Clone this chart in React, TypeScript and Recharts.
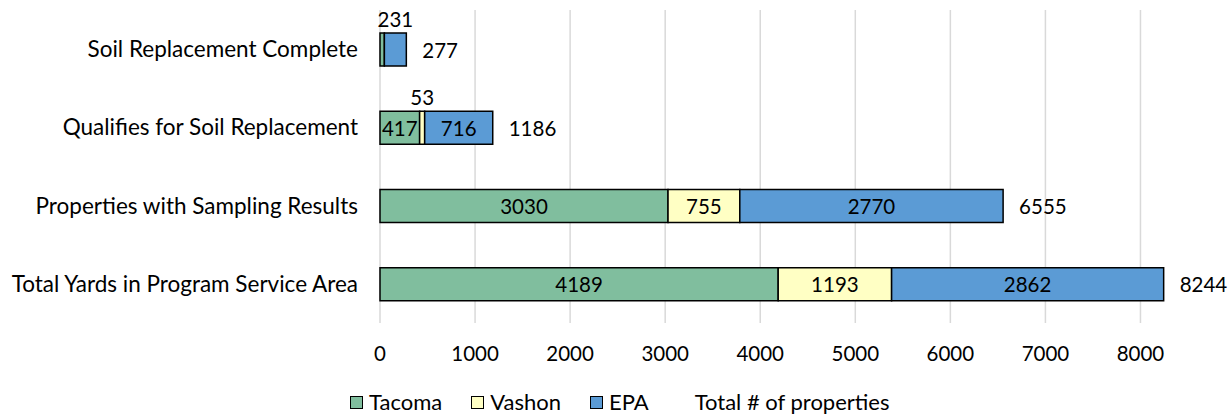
import { BarChart, Bar, XAxis, YAxis, CartesianGrid, Legend, LabelList } from 'recharts';

const categories = [
  'Soil Replacement Complete',
  'Qualifies for Soil Replacement',
  'Properties with Sampling Results',
  'Total Yards in Program Service Area',
];
const tacoma = [46, 417, 3030, 4189];
const vashon = [0, 53, 755, 1193];
const epa = [231, 716, 2770, 2862];
const totals = [277, 1186, 6555, 8244];
const xTicks = [0, 1000, 2000, 3000, 4000, 5000, 6000, 7000, 8000];
const X_MAX = 8500;

// Tacoma label on the first row is not shown in the original
const hiddenTacomaLabels = ['Soil Replacement Complete'];

const FONT = 'Lato, "Open Sans", sans-serif';
const NUM_SIZE = 20.5;
const COLORS = { tacoma: '#80BE9E', vashon: '#FFFFC4', epa: '#5B9BD5' };

const data = categories.map((name, i) => ({
  name,
  tacoma: tacoma[i],
  vashon: vashon[i],
  epa: epa[i],
  total: totals[i],
}));

const segmentLabel = (hidden: string[] = []) => (props: any) => {
  const { x, y, width, height, value, index } = props;
  if (!value || hidden.includes(categories[index])) return null;
  const text = String(value);
  const textWidth = text.length * 11.8 + 4;
  const cx = Number(x) + Number(width) / 2;
  const above = Number(width) < textWidth;
  return (
    <text
      x={cx}
      y={above ? Number(y) - 14 : Number(y) + Number(height) / 2}
      textAnchor="middle"
      dominantBaseline="central"
      fill="#000"
      fontSize={NUM_SIZE}
      fontFamily={FONT}
    >
      {text}
    </text>
  );
};

const totalLabel = (props: any) => {
  const { x, y, width, height, index } = props;
  return (
    <text
      x={Number(x) + Number(width) + 16}
      y={Number(y) + Number(height) / 2}
      dominantBaseline="central"
      fill="#000"
      fontSize={NUM_SIZE}
      fontFamily={FONT}
    >
      {totals[index]}
    </text>
  );
};

const legendItems = [
  { label: 'Tacoma', color: COLORS.tacoma },
  { label: 'Vashon', color: COLORS.vashon },
  { label: 'EPA', color: COLORS.epa },
  { label: 'Total # of properties', color: null },
];

const CustomLegend = () => (
  <div
    style={{
      display: 'flex',
      justifyContent: 'flex-start',
      fontFamily: FONT,
      fontSize: 22,
      lineHeight: '22px',
      color: '#000',
      paddingLeft: 350,
    }}
  >
    {legendItems.map(item => (
      <div key={item.label} style={{ display: 'flex', alignItems: 'center', marginRight: item.color ? 29 : 0, marginLeft: item.color ? 0 : 17 }}>
        {item.color && (
          <span style={{ width: 11, height: 11, background: item.color, border: '1.5px solid #000', marginRight: 6, display: 'inline-block' }} />
        )}
        <span>{item.label}</span>
      </div>
    ))}
  </div>
);

export default function App() {
  return (
    <div style={{ position: 'absolute', left: 0, top: 0, width: 1230, height: 417, background: '#fff' }}>
      <BarChart
        width={1230}
        height={417}
        data={data}
        layout="vertical"
        margin={{ top: 10, right: 42, bottom: 2, left: 0 }}
        barSize={33}
      >
        <CartesianGrid
          horizontal={false}
          stroke="#d9d9d9"
          strokeWidth={1.5}
          verticalCoordinatesGenerator={({ offset }: any) =>
            xTicks.map(t => offset.left + (t / X_MAX) * offset.width)
          }
        />
        <XAxis
          type="number"
          domain={[0, X_MAX]}
          ticks={xTicks}
          axisLine={false}
          tickLine={false}
          tickMargin={17}
          height={68}
          tick={{ fill: '#000', fontSize: NUM_SIZE, fontFamily: FONT }}
        />
        <YAxis
          type="category"
          dataKey="name"
          width={380}
          axisLine={false}
          tickLine={false}
          tickMargin={16}
          tick={{ fill: '#000', fontSize: 22.5, fontFamily: FONT }}
        />
        <Legend verticalAlign="bottom" height={24} content={<CustomLegend />} />
        <Bar dataKey="tacoma" stackId="a" fill={COLORS.tacoma} stroke="#000" strokeWidth={1.5} isAnimationActive={false}>
          <LabelList dataKey="tacoma" content={segmentLabel(hiddenTacomaLabels)} />
        </Bar>
        <Bar dataKey="vashon" stackId="a" fill={COLORS.vashon} stroke="#000" strokeWidth={1.5} isAnimationActive={false}>
          <LabelList dataKey="vashon" content={segmentLabel()} />
        </Bar>
        <Bar dataKey="epa" stackId="a" fill={COLORS.epa} stroke="#000" strokeWidth={1.5} isAnimationActive={false}>
          <LabelList dataKey="epa" content={segmentLabel()} />
          <LabelList dataKey="total" content={totalLabel} />
        </Bar>
      </BarChart>
    </div>
  );
}
